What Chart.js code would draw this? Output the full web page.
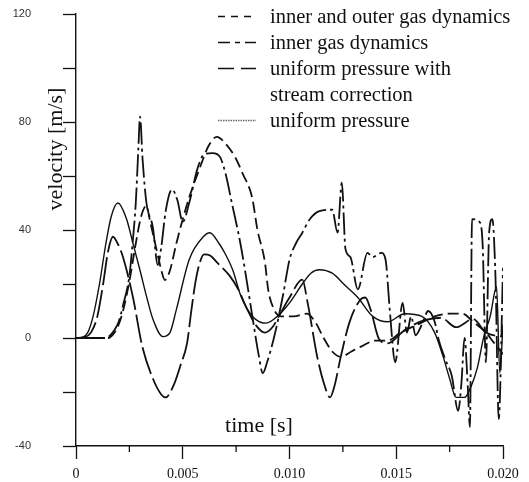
<!DOCTYPE html>
<html>
<head>
<meta charset="utf-8">
<script src="https://cdn.jsdelivr.net/npm/chart.js@4.4.1/dist/chart.umd.min.js"></script>
<style>
  html, body { margin: 0; padding: 0; background: #fff; }
  canvas { display: block; }
</style>
</head>
<body>
<canvas id="velocityChart" width="529" height="482"></canvas>
<script>
// tiempos en segundos, velocidades en m/s
const timeOuter = [0, 0.0012, 0.0015, 0.0018, 0.0020, 0.0022, 0.0025, 0.0028, 0.00305, 0.0033,
  0.00345, 0.00365, 0.00385, 0.0040, 0.00416, 0.0044, 0.0047, 0.0050, 0.0053, 0.0058,
  0.0062, 0.0066, 0.0070, 0.00745, 0.0078, 0.00825, 0.0085, 0.00885, 0.0090, 0.00925,
  0.0096, 0.0102, 0.0108, 0.0112, 0.0116, 0.0120, 0.0124, 0.0129, 0.0134, 0.0140,
  0.0146, 0.0152, 0.0160, 0.0168, 0.0175, 0.0181, 0.0186, 0.0192, 0.0196, 0.0200];
const velOuter = [0, 0, 0, 2, 5, 10, 21, 35, 45, 49,
  44, 37, 30, 25, 21.5, 25, 35, 44, 52, 63,
  71, 74.5, 72, 67, 61, 52, 40, 28, 18, 11,
  8, 8, 9, 6, 0, -5, -7, -5, -3, -1,
  -1, 2, 5, 8, 9, 9, 6, 2, -2, -6];

const timeInner = [0, 0.0014, 0.0016, 0.0018, 0.0020, 0.0022, 0.0025, 0.00265, 0.0028, 0.00292,
  0.0030, 0.00312, 0.0033, 0.0036, 0.00383, 0.0040, 0.0042, 0.0045, 0.00475, 0.0050,
  0.0053, 0.0057, 0.0060, 0.0064, 0.00675, 0.0070, 0.0073, 0.0077, 0.0080, 0.0083,
  0.00855, 0.00875, 0.00895, 0.0093, 0.0097, 0.0100, 0.0103, 0.0106, 0.01095, 0.0114,
  0.0120, 0.01225, 0.01245, 0.01262, 0.01285, 0.0132, 0.01365, 0.0139, 0.0143, 0.0145,
  0.0147, 0.01495, 0.0153, 0.0155, 0.0157, 0.0159, 0.0162, 0.0165, 0.0168, 0.0170,
  0.0173, 0.0176, 0.0179, 0.01805, 0.0182, 0.01835, 0.01845, 0.01855, 0.0189, 0.01905,
  0.0192, 0.01935, 0.0195, 0.01965, 0.0198, 0.0200];
const velInner = [0, 0, 1, 3, 6, 12, 23, 35, 50, 70,
  82, 66, 50, 41, 27, 34, 47, 55, 51, 43,
  50, 63, 68, 68.5, 67, 61, 50, 35, 21, 6,
  -6, -13, -9, 1, 16, 29, 35, 39, 44, 47,
  47.5, 39, 57.5, 33, 30, 18, 31.5, 30, 31.5, 29,
  10, -9, 13, 2, 8, 1, 5, 10, 6, -1,
  -8, -14, -27, -17, 0, -18, -33, 44, 43, 34,
  -9, 39, 44, 22, -30, 26];

const timeStream = [0, 0.0004, 0.0007, 0.0010, 0.00127, 0.0015, 0.00173, 0.00195, 0.0022, 0.00267,
  0.0031, 0.0036, 0.0040, 0.0042, 0.0046, 0.0049, 0.0052, 0.0054, 0.0056, 0.0058,
  0.0060, 0.0063, 0.0066, 0.0072, 0.0076, 0.0080, 0.0084, 0.00885, 0.0092, 0.0095,
  0.0100, 0.0106, 0.01085, 0.0113, 0.0116, 0.0119, 0.0121, 0.0124, 0.0128, 0.0133,
  0.01355, 0.0138, 0.0142, 0.0146, 0.0154, 0.0163, 0.0171, 0.0178, 0.0186, 0.0192,
  0.0200];
const velStream = [0, 0.3, 2, 8, 20, 32, 37.5, 35, 30, 15,
  -3, -15, -21, -22, -17, -10, -2, 10, 21, 28,
  31, 30.5, 28, 23, 18, 11, 5, 2, 4, 8,
  15, 21.6, 13, -7, -16.5, -22, -18, -7, 5.6, 14,
  15, 10.5, -0.5, -2, 3, 6.5, 7.5, 4, 7, 2,
  0.5];

const timeUniform = [0, 0.0003, 0.00055, 0.0008, 0.0011, 0.0014, 0.00165, 0.00196, 0.00237, 0.00267,
  0.0030, 0.0033, 0.0036, 0.00407, 0.0044, 0.0047, 0.0053, 0.00596, 0.00627, 0.0067,
  0.0070, 0.00735, 0.0077, 0.0080, 0.0084, 0.0089, 0.0095, 0.0100, 0.0106, 0.0110,
  0.0114, 0.0120, 0.0126, 0.0132, 0.0139, 0.0146, 0.0154, 0.0162, 0.0168, 0.0172,
  0.0175, 0.0178, 0.0182, 0.0185, 0.0188, 0.0191, 0.0194, 0.0197, 0.01985, 0.0200];
const velUniform = [0, 0.3, 2, 8, 20, 35, 45, 50, 44, 35,
  25, 15.5, 7, 0.5, 2, 10.5, 29, 37.5, 39, 35,
  31, 25, 16, 11, 7, 5.5, 8.5, 13, 20, 24,
  25.3, 24, 19.5, 15, 8, 6, 9, 8, 2, -7,
  -15, -22, -22, -18, -11, 0.5, 8, 19, -13, 5];

const seriesLabels = ['inner and outer gas dynamics', 'inner gas dynamics',
  'uniform pressure with\nstream correction', 'uniform pressure'];
const xTickValues = [0, 0.005, 0.010, 0.015, 0.020];
const xTickLabels = ['0', '0.005', '0.010', '0.015', '0.020'];
const yTickLabels = [-40, 0, 40, 80, 120];

const ink = '#111';
const serif = '"Liberation Serif", "Times New Roman", serif';

// estilos de línea en el gráfico y en la leyenda
const plotDash = [[11, 5], [22, 4, 3, 4], [28, 5], []];
const plotWidth = [1.8, 1.8, 1.8, 1.4];
const legendDash = [[7, 6], [12, 5, 5, 5], [16, 7], [1.5, 1]];
const legendColor = [ink, ink, ink, '#666'];

function pares(ts, vs) {
    return ts.map((t, i) => ({ x: t, y: vs[i] }));
}

function esMayor(v) {
    return xTickValues.some(m => Math.abs(m - v) < 1e-9);
}

const seriesData = [
    pares(timeOuter, velOuter),
    pares(timeInner, velInner),
    pares(timeStream, velStream),
    pares(timeUniform, velUniform)
];

// Plugin: ticks menores, títulos de ejes y leyenda
const decorPlugin = {
    id: 'decor',
    afterDraw(chart) {
        const ctx = chart.ctx;
        const area = chart.chartArea;
        const x = chart.scales.x;

        ctx.save();
        ctx.strokeStyle = ink;
        ctx.lineWidth = 1.3;
        x.ticks.forEach(t => {
            if (!esMayor(t.value)) {
                const px = x.getPixelForValue(t.value);
                ctx.beginPath();
                ctx.moveTo(px, area.bottom);
                ctx.lineTo(px, area.bottom + 6);
                ctx.stroke();
            }
        });

        ctx.fillStyle = ink;
        ctx.font = '22px ' + serif;
        ctx.textAlign = 'center';
        ctx.textBaseline = 'alphabetic';
        ctx.fillText('time [s]', 259, 432);
        ctx.save();
        ctx.translate(62, 149);
        ctx.rotate(-Math.PI / 2);
        ctx.fillText('velocity [m/s]', 0, 0);
        ctx.restore();

        // leyenda
        ctx.font = '20.5px ' + serif;
        ctx.textAlign = 'left';
        let y = 23;
        seriesLabels.forEach((label, i) => {
            ctx.save();
            ctx.strokeStyle = legendColor[i];
            ctx.lineWidth = i === 3 ? 1.6 : 1.5;
            ctx.setLineDash(legendDash[i]);
            ctx.beginPath();
            ctx.moveTo(218, y - 6.5);
            ctx.lineTo(256, y - 6.5);
            ctx.stroke();
            ctx.restore();
            const lines = label.split('\n');
            lines.forEach((ln, j) => {
                ctx.fillText(ln, 270, y + j * 26);
            });
            y += lines.length * 26;
        });
        ctx.restore();
    }
};

const chart = new Chart(document.getElementById('velocityChart').getContext('2d'), {
    type: 'line',
    data: {
        datasets: seriesData.map((d, i) => ({
            label: seriesLabels[i].replace('\n', ' '),
            data: d,
            borderColor: ink,
            borderWidth: plotWidth[i],
            borderDash: plotDash[i],
            pointRadius: 0,
            fill: false,
            cubicInterpolationMode: 'monotone'
        }))
    },
    options: {
        responsive: false,
        animation: false,
        layout: { padding: { top: 14, right: 26, left: 0, bottom: 0 } },
        plugins: {
            legend: { display: false },
            tooltip: { enabled: false }
        },
        scales: {
            x: {
                type: 'linear',
                min: 0,
                max: 0.02,
                afterFit: s => {
                    s.height = 36;
                    s.paddingLeft = 0;
                    s.paddingRight = 0;
                },
                border: { color: ink, width: 1.4 },
                grid: {
                    drawOnChartArea: false,
                    tickLength: 13,
                    tickWidth: 1.3,
                    tickColor: c => (c.tick && esMayor(c.tick.value)) ? ink : 'rgba(0,0,0,0)'
                },
                ticks: {
                    stepSize: 0.0025,
                    autoSkip: false,
                    maxRotation: 0,
                    padding: 7,
                    color: ink,
                    font: { family: serif, size: 14 },
                    callback: v => {
                        const i = xTickValues.findIndex(m => Math.abs(m - v) < 1e-9);
                        return i >= 0 ? xTickLabels[i] : '';
                    }
                }
            },
            y: {
                min: -40,
                max: 120,
                afterFit: s => {
                    s.width = 76;
                    s.paddingTop = 0;
                    s.paddingBottom = 0;
                },
                border: { color: ink, width: 1.4 },
                grid: {
                    drawOnChartArea: false,
                    tickLength: 13,
                    tickWidth: 1.3,
                    tickColor: ink
                },
                ticks: {
                    stepSize: 20,
                    padding: 32,
                    color: '#333',
                    font: { family: '"Liberation Sans", Arial, sans-serif', size: 11 },
                    callback: v => yTickLabels.includes(v) ? String(v) : ''
                }
            }
        }
    },
    plugins: [decorPlugin]
});
</script>
</body>
</html>
